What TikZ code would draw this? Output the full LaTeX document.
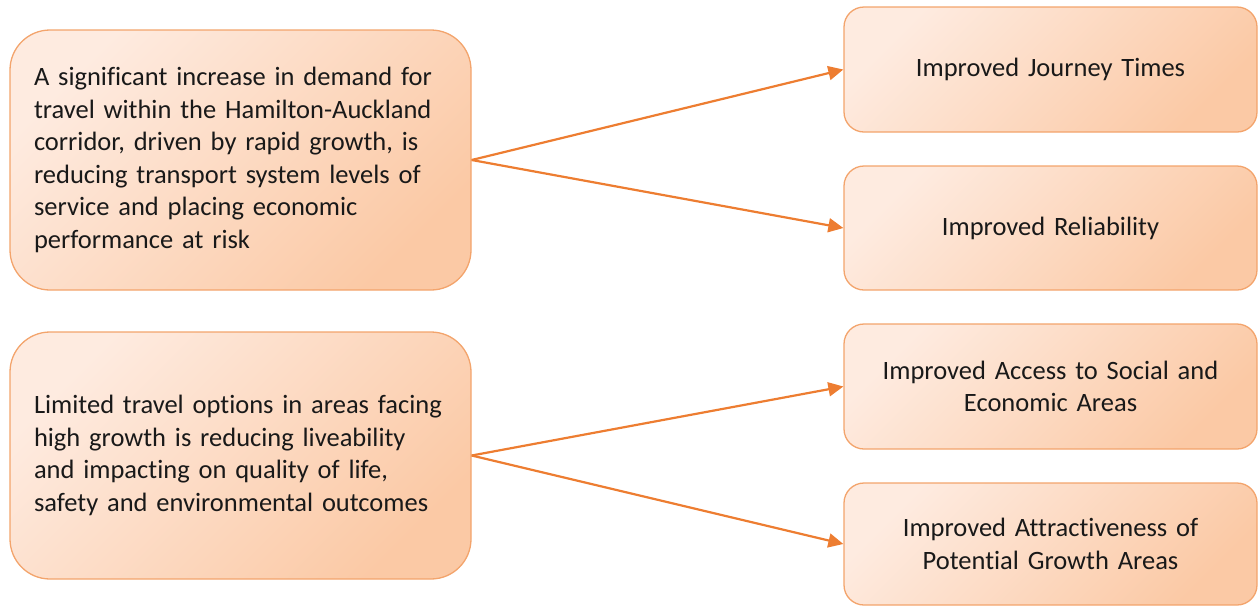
\documentclass[tikz,border=0pt]{standalone}
\usepackage{fontspec}
\setmainfont[RawFeature={-liga}]{Carlito}
\usetikzlibrary{arrows.meta}
\definecolor{lt}{HTML}{FEEBE0}
\definecolor{dk}{HTML}{FBC9A5}
\definecolor{bd}{HTML}{F3A46C}
\definecolor{ar}{HTML}{ED7D31}
\begin{document}
\begin{tikzpicture}[x=1pt,y=-1pt,
  box/.style={draw=bd, line width=1.3pt, top color=lt, bottom color=dk, shading angle=45,
    inner sep=0pt, font=\fontsize{26.5}{32.5}\selectfont, text=black!90},
  lbox/.style={box, rounded corners=40pt, minimum width=461pt, text width=413pt, inner xsep=24pt, align=left},
  rbox/.style={box, rounded corners=20pt, minimum width=413pt, text width=400pt, align=center},
  arr/.style={draw=ar, line width=2.2pt, -{Triangle[length=15pt,width=14pt]}}]
\useasboundingbox (0,0) rectangle (1258,606);
\node[lbox, minimum height=260pt] (p1) at (240.5,160) {A significant increase in demand for\\travel within the Hamilton-Auckland\\corridor, driven by rapid growth, is\\reducing transport system levels of\\service and placing economic\\performance at risk};
\node[lbox, minimum height=247pt] (p2) at (240.5,455.5) {Limited travel options in areas facing\\high growth is reducing liveability\\and impacting on quality of life,\\safety and environmental outcomes};
\node[rbox, minimum height=125pt] (r1) at (1050.5,69.5) {Improved Journey Times};
\node[rbox, minimum height=124pt] (r2) at (1050.5,228) {Improved Reliability};
\node[rbox, minimum height=125pt] (r3) at (1050.5,386.5) {Improved Access to Social and\\Economic Areas};
\node[rbox, minimum height=122pt] (r4) at (1050.5,544) {Improved Attractiveness of\\Potential Growth Areas};
\draw[arr] (p1.east) -- (r1.west);
\draw[arr] (p1.east) -- (r2.west);
\draw[arr] (p2.east) -- (r3.west);
\draw[arr] (p2.east) -- (r4.west);
\end{tikzpicture}
\end{document}
